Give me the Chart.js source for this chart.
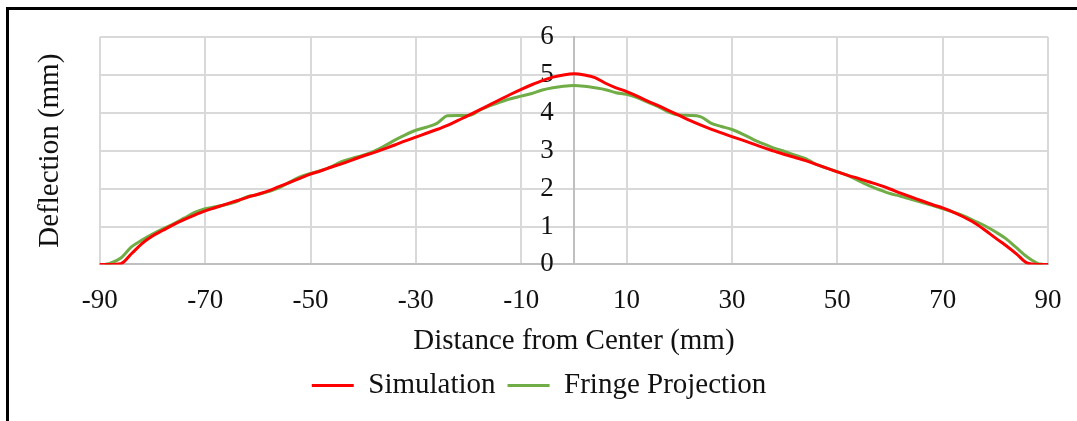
<!DOCTYPE html>
<html>
<head>
<meta charset="utf-8">
<script src="https://cdn.jsdelivr.net/npm/chart.js@4.4.1/dist/chart.umd.min.js"></script>
<style>
  body { margin: 0; background: #fff; }
  #wrap { position: relative; width: 1077px; height: 421px; overflow: hidden; }
  #frame { position: absolute; left: 6px; top: 7px; width: 1200px; height: 500px;
           border-left: 3px solid #000; border-top: 3px solid #000; pointer-events: none; }
</style>
</head>
<body>
<div id="wrap">
  <canvas id="deflectionChart" width="1077" height="421"></canvas>
  <div id="frame"></div>
</div>
<script>
// distance from center (mm) and deflection (mm)
const simX = [-90, -88, -86, -84, -82, -80, -78, -76, -74, -72, -70, -68, -66, -64, -62, -60, -58, -56, -54, -52,
  -50, -48, -46, -44, -42, -40, -38, -36, -34, -32, -30, -28, -26, -24, -22, -20, -18, -16, -14, -12,
  -10, -8, -6, -4, -2, 0, 2, 4, 6, 8, 10, 12, 14, 16, 18, 20, 22, 24, 26, 28,
  30, 32, 34, 36, 38, 40, 42, 44, 46, 48, 50, 52, 54, 56, 58, 60, 62, 64, 66, 68,
  70, 72, 74, 76, 78, 80, 82, 84, 86, 88, 90];
const simY = [0, 0, 0.02, 0.28, 0.55, 0.75, 0.9, 1.05, 1.18, 1.3, 1.41, 1.5, 1.59, 1.68, 1.77, 1.85, 1.94, 2.05, 2.16, 2.27,
  2.38, 2.47, 2.57, 2.66, 2.76, 2.86, 2.95, 3.05, 3.15, 3.26, 3.36, 3.46, 3.56, 3.67, 3.8, 3.93, 4.07, 4.21, 4.35, 4.49,
  4.62, 4.74, 4.85, 4.94, 5.0, 5.03, 5.0, 4.93, 4.78, 4.66, 4.56, 4.44, 4.31, 4.19, 4.06, 3.93, 3.8, 3.68, 3.57, 3.47,
  3.37, 3.28, 3.18, 3.08, 2.99, 2.9, 2.82, 2.74, 2.64, 2.54, 2.44, 2.35, 2.27, 2.18, 2.09, 1.99, 1.88, 1.78, 1.68, 1.58,
  1.49, 1.38, 1.25, 1.1, 0.91, 0.7, 0.5, 0.28, 0.04, 0, 0];

const fpX = [-89, -88, -86, -84, -82, -80, -78, -76, -74, -72, -70, -68, -66, -64, -62, -60, -58, -56, -54, -52,
  -50, -48, -46, -44, -42, -40, -38, -36, -34, -32, -30, -28, -26, -24, -22, -20, -19, -18, -16, -14, -12,
  -10, -8, -6, -4, -2, 0, 2, 4, 6, 8, 10, 12, 14, 16, 18, 20, 22, 24, 26, 28,
  30, 32, 34, 36, 38, 40, 42, 44, 46, 48, 50, 52, 54, 56, 58, 60, 62, 64, 66, 68,
  70, 72, 74, 76, 78, 80, 82, 84, 86, 88, 89];
const fpY = [0, 0.03, 0.17, 0.46, 0.64, 0.8, 0.94, 1.07, 1.22, 1.37, 1.47, 1.52, 1.58, 1.66, 1.79, 1.84, 1.92, 2.02, 2.17, 2.31,
  2.4, 2.48, 2.58, 2.72, 2.8, 2.88, 2.98, 3.12, 3.28, 3.42, 3.54, 3.62, 3.72, 3.92, 3.93, 3.93, 3.97, 4.06, 4.18, 4.28, 4.37,
  4.44, 4.51, 4.6, 4.66, 4.7, 4.72, 4.7, 4.66, 4.61, 4.53, 4.49, 4.4, 4.28, 4.16, 4.02, 3.94, 3.93, 3.9, 3.73, 3.64,
  3.56, 3.44, 3.3, 3.18, 3.07, 2.98, 2.88, 2.79, 2.64, 2.54, 2.45, 2.35, 2.21, 2.08, 1.97, 1.87, 1.8, 1.72, 1.64, 1.56,
  1.47, 1.38, 1.28, 1.15, 1.02, 0.86, 0.68, 0.44, 0.2, 0.03, 0];

const xTicks = [-90, -70, -50, -30, -10, 10, 30, 50, 70, 90];
const seriesNames = ['Simulation', 'Fringe Projection'];

const serif = 'Liberation Serif';
const txt = '#111';

const toPoints = (xs, ys) => xs.map((x, i) => ({ x: x, y: ys[i] }));

new Chart(document.getElementById('deflectionChart'), {
    type: 'line',
    data: {
        datasets: [{
            label: seriesNames[0],
            data: toPoints(simX, simY),
            borderColor: '#ff0000',
            backgroundColor: '#ff0000',
            borderWidth: 3,
            pointRadius: 0,
            cubicInterpolationMode: 'monotone'
        }, {
            label: seriesNames[1],
            data: toPoints(fpX, fpY),
            borderColor: '#70ad47',
            backgroundColor: '#70ad47',
            borderWidth: 3,
            pointRadius: 0,
            cubicInterpolationMode: 'monotone'
        }]
    },
    options: {
        responsive: false,
        animation: false,
        layout: { padding: { left: 30, right: 29, top: 37, bottom: 11 } },
        plugins: {
            tooltip: { enabled: false },
            legend: {
                position: 'bottom',
                labels: {
                    usePointStyle: true,
                    pointStyle: 'line',
                    pointStyleWidth: 42,
                    padding: 12,
                    color: txt,
                    font: { family: serif, size: 29 }
                }
            }
        },
        scales: {
            x: {
                type: 'linear',
                min: -90,
                max: 90,
                afterBuildTicks: s => { s.ticks = xTicks.map(v => ({ value: v })); },
                grid: { color: '#d9d9d9', lineWidth: 2, drawTicks: false },
                border: { color: '#bfbfbf', width: 2 },
                // tall line box pushes labels down without adding side overflow
                ticks: { padding: 4, color: txt, font: { family: serif, size: 27, lineHeight: 2.4 } },
                title: {
                    display: true,
                    text: 'Distance from Center (mm)',
                    color: txt,
                    padding: { top: -13, bottom: 0 },
                    font: { family: serif, size: 29 }
                }
            },
            y: {
                position: { x: 0 },
                min: 0,
                max: 6,
                ticks: {
                    stepSize: 1,
                    autoSkip: false,
                    color: txt,
                    font: { family: serif, size: 27 },
                    callback: v => v + '   '
                },
                grid: { color: '#d9d9d9', lineWidth: 2, drawTicks: false },
                border: { color: '#bfbfbf', width: 2 }
            },
            yTitle: {
                position: 'left',
                min: 0,
                max: 6,
                ticks: { display: false },
                grid: { display: false, drawTicks: false },
                border: { display: false },
                title: {
                    display: true,
                    text: 'Deflection (mm)',
                    color: txt,
                    padding: { top: 3, bottom: 32 },
                    font: { family: serif, size: 29 }
                }
            }
        }
    }
});
</script>
</body>
</html>
